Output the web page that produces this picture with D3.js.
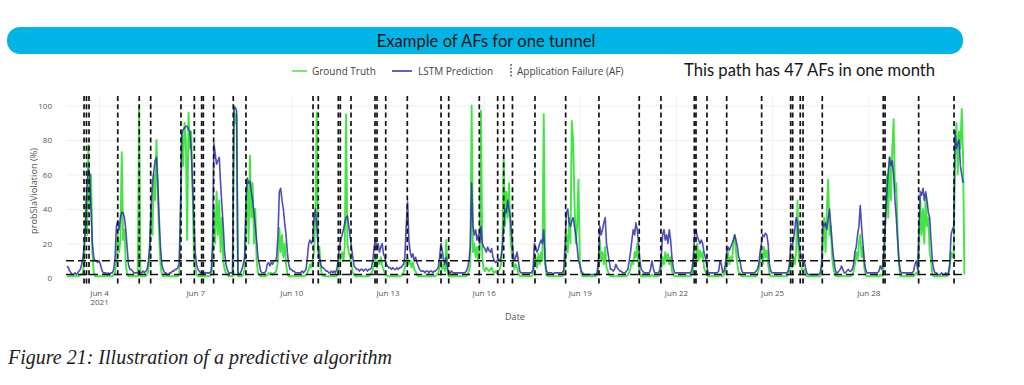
<!DOCTYPE html>
<html>
<head>
<meta charset="utf-8">
<script src="https://cdn.jsdelivr.net/npm/d3@7"></script>
<style>
  body { margin: 0; background: #fff; }
  svg { display: block; }
</style>
</head>
<body>
<div id="chart"></div>
<script>
// hourly values, one row per day starting Jun 3 2021
const groundTruth = [
  [1,1,1,1,1,1,1,1,1,1,2,2,3,12,45,25,77,40,60,15,3,1,1,1],
  [1,1,1,1,1,1,1,1,1,1,1,2,3,10,25,15,22,73,22,28,8,2,1,1],
  [1,1,1,1,1,1,100,1,1,1,1,1,2,5,15,40,25,60,45,80,50,25,8,2],
  [1,1,1,1,1,1,1,1,1,1,1,1,2,30,85,65,90,80,22,96,75,85,50,15],
  [6,2,1,1,1,1,1,1,1,1,1,1,2,10,40,20,50,25,45,15,35,10,5,3],
  [2,1,1,1,1,100,90,95,1,1,1,1,2,5,30,55,20,71,35,55,20,40,10,3],
  [2,1,1,1,1,1,2,3,2,3,2,3,3,5,10,29,15,25,12,20,8,3,1,1],
  [1,1,1,1,1,1,1,1,1,1,1,2,3,5,8,6,10,15,35,96,15,18,5,2],
  [1,1,1,1,1,1,1,1,1,1,1,3,8,12,15,10,18,95,20,15,12,8,3,2],
  [1,1,1,1,1,1,1,1,1,1,1,2,3,5,8,12,6,10,8,12,7,5,3,2],
  [1,1,1,1,1,1,1,1,1,1,1,2,3,6,10,12,8,10,6,9,5,4,2,1],
  [1,1,1,1,1,1,1,1,1,1,1,1,1,2,3,6,10,5,8,4,22,3,1,1],
  [1,1,1,1,1,1,1,1,1,1,1,1,2,4,8,100,15,20,12,18,10,15,97,12],
  [5,4,6,5,4,5,6,4,3,4,3,4,5,8,20,70,30,50,35,55,25,15,10,5],
  [8,6,3,1,1,1,1,1,1,1,1,1,1,2,8,12,6,14,8,15,10,95,8,2],
  [1,1,1,1,1,1,1,1,1,1,1,1,2,8,25,15,35,20,91,80,45,20,30,57],
  [10,3,1,1,1,1,1,1,1,1,1,1,1,2,6,22,10,15,8,18,6,4,2,1],
  [1,1,1,1,1,1,1,1,1,1,1,1,2,3,6,10,8,15,12,20,7,3,1,1],
  [1,1,1,1,1,1,2,1,1,1,1,1,2,5,12,8,15,10,14,8,12,4,2,1],
  [1,1,1,1,1,1,1,1,1,1,1,1,2,5,15,8,20,10,16,12,15,6,4,2],
  [1,1,1,1,1,1,1,1,1,2,1,1,2,4,10,15,8,12,10,20,25,15,8,3],
  [3,1,1,1,1,1,1,1,1,1,1,1,1,2,5,10,15,8,18,12,16,8,3,1],
  [1,1,1,1,1,1,1,1,1,1,1,1,2,5,10,6,12,8,15,45,10,8,6,4],
  [5,2,1,1,1,1,1,1,1,1,1,1,1,3,20,35,15,40,57,25,30,12,5,2],
  [1,1,1,1,1,1,1,1,1,1,1,1,2,4,8,15,10,20,25,12,18,6,2,1],
  [1,1,1,1,1,1,1,1,1,2,1,2,10,40,60,35,70,45,75,92,50,55,25,8],
  [1,1,1,1,1,1,1,1,1,1,1,2,3,2,15,45,25,40,20,48,30,35,15,10],
  [2,1,1,1,1,1,1,1,1,1,1,1,2,5,15,12,15,70,90,60,85,75,98,70,2]
];

const lstmPrediction = [
  [7,6,4,3,2,2,3,2,3,4,5,8,12,20,30,55,63,60,40,20,12,10,10,9],
  [10,8,5,3,3,3,2,3,2,3,3,5,12,30,33,28,35,38,38,35,28,18,8,5],
  [5,4,3,3,3,3,4,3,3,4,3,4,5,10,20,40,55,62,68,70,55,35,18,8],
  [5,3,3,2,2,3,3,4,4,5,5,6,8,40,84,86,87,88,88,86,85,75,55,35],
  [15,8,5,4,3,3,3,3,3,3,3,3,4,20,78,72,66,68,70,55,42,30,15,8],
  [5,3,3,3,3,98,99,97,3,2,3,5,8,12,45,58,55,56,50,45,38,30,22,12],
  [8,4,3,3,3,4,8,9,7,9,8,10,10,12,25,50,52,45,40,32,25,15,8,5],
  [5,4,4,3,3,3,3,3,4,3,4,5,12,20,22,20,22,35,40,30,18,12,8,6],
  [6,5,4,4,3,3,4,3,4,3,5,10,18,22,25,28,32,35,36,30,24,18,12,7],
  [6,5,5,4,5,5,4,5,5,4,5,5,6,10,18,22,17,20,15,18,20,14,12,8],
  [7,6,6,5,6,5,5,6,5,6,6,7,8,12,30,44,22,15,12,14,10,12,9,7],
  [5,4,4,4,3,4,4,3,4,4,3,4,4,5,6,12,20,16,10,8,12,5,3,3],
  [4,3,3,3,3,3,3,3,3,3,3,4,6,10,18,55,30,25,28,22,25,20,30,20],
  [18,17,15,18,16,15,17,12,10,9,10,11,10,12,18,30,40,38,45,40,35,25,15,10],
  [12,15,10,4,3,3,3,3,3,3,3,3,3,5,20,18,15,17,20,22,20,28,10,4],
  [3,3,3,3,2,3,3,3,3,3,3,3,5,20,38,40,32,30,33,35,30,25,18,10],
  [8,4,3,2,2,2,2,2,2,2,2,2,2,3,12,30,25,28,32,35,20,15,10,5],
  [5,4,5,8,6,5,4,4,3,3,3,4,5,10,15,22,28,25,32,28,20,10,5,4],
  [3,3,3,3,3,5,10,6,3,3,3,3,5,12,25,28,22,25,20,28,22,12,6,3],
  [3,3,3,3,3,3,3,3,3,3,3,3,5,12,25,28,24,22,20,22,20,15,12,8],
  [3,3,3,3,3,3,3,3,4,10,8,3,4,8,15,18,16,18,20,22,25,22,18,12],
  [10,5,3,3,3,3,3,3,3,3,3,3,4,5,8,15,20,25,24,26,25,20,8,4],
  [3,3,3,3,3,3,3,3,3,3,3,3,4,8,20,18,22,28,35,32,20,15,12,10],
  [10,6,3,2,2,2,2,2,2,2,2,2,3,8,32,30,32,28,35,40,30,20,12,6],
  [3,3,4,5,7,5,3,3,4,5,4,4,5,8,15,18,25,30,42,30,20,10,5,3],
  [3,3,3,3,3,3,3,3,4,7,5,8,20,35,50,62,70,65,68,60,45,35,22,10],
  [4,3,3,3,3,3,3,3,3,3,4,8,10,5,30,50,48,52,45,50,45,38,35,22],
  [10,5,3,3,2,2,2,3,2,2,3,2,3,8,25,28,30,85,75,78,80,65,60,55]
];

const afTimes = [
  '2021-06-03 12:45', '2021-06-03 14:35', '2021-06-03 16:30',
  '2021-06-04 14:00',
  '2021-06-05 06:05', '2021-06-05 14:40',
  '2021-06-06 13:20', '2021-06-06 23:20',
  '2021-06-07 04:50', '2021-06-07 06:05', '2021-06-07 13:50',
  '2021-06-08 04:30', '2021-06-08 14:00',
  '2021-06-10 16:15', '2021-06-10 20:10',
  '2021-06-11 11:10', '2021-06-11 12:40', '2021-06-11 20:40',
  '2021-06-12 14:40', '2021-06-12 16:10', '2021-06-12 22:40',
  '2021-06-13 14:50',
  '2021-06-14 16:05', '2021-06-14 21:50',
  '2021-06-15 20:45',
  '2021-06-16 10:30', '2021-06-16 15:00', '2021-06-16 21:35',
  '2021-06-17 14:25',
  '2021-06-18 13:25',
  '2021-06-19 14:20',
  '2021-06-20 20:30',
  '2021-06-21 12:45',
  '2021-06-22 13:45', '2021-06-22 15:00', '2021-06-22 23:15',
  '2021-06-23 14:00',
  '2021-06-24 16:10',
  '2021-06-25 13:55', '2021-06-25 15:25', '2021-06-25 21:05', '2021-06-25 23:10',
  '2021-06-26 13:35',
  '2021-06-28 11:15', '2021-06-28 12:35',
  '2021-06-29 13:45',
  '2021-06-30 16:15'
];

const thresholds = [10, 2];
const yTicks = [0, 20, 40, 60, 80, 100];
const xTicks = ['2021-06-04', '2021-06-07', '2021-06-10', '2021-06-13', '2021-06-16',
  '2021-06-19', '2021-06-22', '2021-06-25', '2021-06-28'];
const dateRange = ['2021-06-03', '2021-07-01'];

const chartTitle = 'Example of AFs for one tunnel';
const note = 'This path has 47 AFs in one month';
const caption = 'Figure 21: Illustration of a predictive algorithm';

const WIDTH = 1024;
const HEIGHT = 385;
const PLOT = { left: 66, right: 964.4, top: 96, bottom: 286 };
const GREEN = '#45e445';
const BLUE = '#2f2fae';

const parseDay = d3.timeParse('%Y-%m-%d');
const parseTime = d3.timeParse('%Y-%m-%d %H:%M');

const toPoints = (rows) =>
  rows.flatMap((values, day) =>
    values.map((value, hour) => ({ date: new Date(2021, 5, 3 + day, hour), value }))
  );

const svg = d3.select('#chart').append('svg')
  .attr('width', WIDTH).attr('height', HEIGHT)
  .style('font-family', '"Open Sans", sans-serif');

const x = d3.scaleTime()
  .domain(dateRange.map(parseDay))
  .range([67, PLOT.right]);
const y = d3.scaleLinear().domain([0, 100]).range([278, 105.5]);

// title banner
svg.append('rect')
  .attr('x', 7).attr('y', 27).attr('width', 956).attr('height', 27)
  .attr('rx', 13).attr('fill', '#00b5e5');
svg.append('text')
  .attr('x', 486).attr('y', 47)
  .attr('text-anchor', 'middle')
  .style('font-family', 'Lato, sans-serif').style('font-size', '16.6px')
  .attr('fill', '#161616')
  .text(chartTitle);

// grid
svg.append('g')
  .attr('transform', `translate(${PLOT.left},0)`)
  .call(d3.axisLeft(y).tickValues(yTicks).tickSize(-(PLOT.right - PLOT.left)).tickFormat(''))
  .call((g) => g.select('.domain').remove())
  .call((g) => g.selectAll('line').attr('stroke', '#eceff3'));
svg.append('g')
  .attr('transform', `translate(0,${PLOT.bottom})`)
  .call(d3.axisBottom(x).tickValues(xTicks.map(parseDay)).tickSize(-(PLOT.bottom - PLOT.top)).tickFormat(''))
  .call((g) => g.select('.domain').remove())
  .call((g) => g.selectAll('line').attr('stroke', '#f0f2f5'));

// tick labels
svg.append('g')
  .attr('transform', `translate(${PLOT.left},0)`)
  .call(d3.axisLeft(y).tickValues(yTicks).tickSize(0).tickPadding(14))
  .call((g) => g.select('.domain').remove())
  .call((g) => g.selectAll('text').attr('fill', '#555').style('font-size', '8px')
    .style('font-family', '"Open Sans", sans-serif'));

const xAxis = svg.append('g')
  .attr('transform', `translate(0,${PLOT.bottom})`)
  .call(d3.axisBottom(x).tickValues(xTicks.map(parseDay)).tickSize(0).tickPadding(4)
    .tickFormat(d3.timeFormat('%b %-d')))
  .call((g) => g.select('.domain').remove());
xAxis.selectAll('text').attr('fill', '#555').style('font-size', '8px')
  .style('font-family', '"Open Sans", sans-serif');
xAxis.select('.tick text')
  .append('tspan').attr('x', 0).attr('dy', '1.15em').text('2021');

svg.append('text')
  .attr('transform', 'translate(37,191) rotate(-90)')
  .attr('text-anchor', 'middle')
  .attr('fill', '#555').style('font-size', '9.2px')
  .text('probSlaViolation (%)');
svg.append('text')
  .attr('x', 515).attr('y', 319.5)
  .attr('text-anchor', 'middle')
  .attr('fill', '#555').style('font-size', '9px')
  .text('Date');

// series
const line = d3.line().x((d) => x(d.date)).y((d) => y(d.value));

svg.append('path')
  .datum(toPoints(groundTruth))
  .attr('fill', 'none').attr('stroke', GREEN).attr('stroke-width', 1.9)
  .attr('stroke-linejoin', 'round')
  .attr('d', line);
svg.append('path')
  .datum(toPoints(lstmPrediction))
  .attr('fill', 'none').attr('stroke', BLUE).attr('stroke-width', 1.6)
  .attr('stroke-opacity', 0.85).attr('stroke-linejoin', 'round')
  .attr('d', line);

// thresholds
svg.append('g')
  .selectAll('line')
  .data(thresholds)
  .join('line')
  .attr('x1', PLOT.left).attr('x2', PLOT.right)
  .attr('y1', (d) => y(d)).attr('y2', (d) => y(d))
  .attr('stroke', '#111').attr('stroke-width', 1.5)
  .attr('stroke-dasharray', '8,4');

// application failures
svg.append('g')
  .selectAll('line')
  .data(afTimes.map(parseTime))
  .join('line')
  .attr('x1', (d) => x(d)).attr('x2', (d) => x(d))
  .attr('y1', PLOT.top).attr('y2', PLOT.bottom)
  .attr('stroke', '#111').attr('stroke-width', 1.7)
  .attr('stroke-dasharray', '5,3.3');

// legend
const legend = svg.append('g').style('font-size', '10px');
legend.append('line').attr('x1', 292).attr('x2', 307).attr('y1', 71).attr('y2', 71)
  .attr('stroke', GREEN).attr('stroke-width', 1.5);
legend.append('text').attr('x', 312).attr('y', 74.5).attr('fill', '#444').text('Ground Truth');
legend.append('line').attr('x1', 392).attr('x2', 412).attr('y1', 71).attr('y2', 71)
  .attr('stroke', BLUE).attr('stroke-width', 1.5);
legend.append('text').attr('x', 418).attr('y', 74.5).attr('fill', '#444').text('LSTM Prediction');
legend.append('line').attr('x1', 511).attr('x2', 511).attr('y1', 64).attr('y2', 78)
  .attr('stroke', '#111').attr('stroke-width', 1).attr('stroke-dasharray', '2,1.5');
legend.append('text').attr('x', 517).attr('y', 74.5).attr('fill', '#444').text('Application Failure (AF)');

svg.append('text')
  .attr('x', 684).attr('y', 75.5)
  .style('font-family', 'Lato, sans-serif').style('font-size', '16.6px')
  .attr('fill', '#161616')
  .text(note);

svg.append('text')
  .attr('x', 8).attr('y', 364)
  .style('font-family', '"Liberation Serif", serif').style('font-style', 'italic')
  .style('font-size', '20px')
  .attr('fill', '#222')
  .text(caption);
</script>
</body>
</html>
